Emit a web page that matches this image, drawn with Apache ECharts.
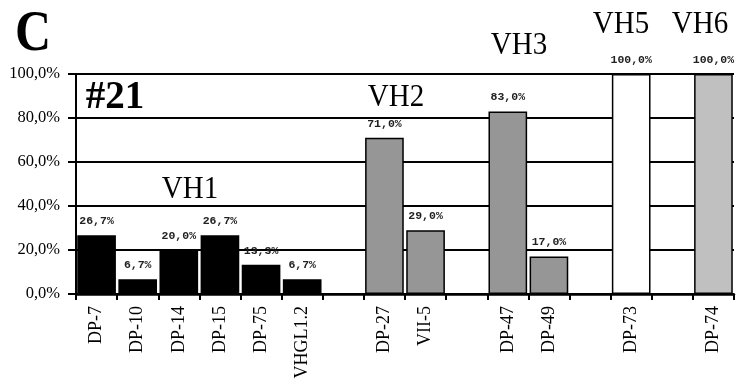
<!DOCTYPE html>
<html>
<head>
<meta charset="utf-8">
<script src="https://cdn.jsdelivr.net/npm/echarts@6/dist/echarts.min.js"></script>
<style>
  html, body { margin: 0; padding: 0; background: #fff; }
  #chart { width: 736px; height: 383px; }
</style>
</head>
<body>
<div id="chart"></div>
<script>
// Isolates along the x axis; empty strings are spacer slots between groups
const categories = ['DP-7', 'DP-10', 'DP-14', 'DP-15', 'DP-75', 'VHGL1.2', '',
  'DP-27', 'VII-5', '', 'DP-47', 'DP-49', '', 'DP-73', '', 'DP-74'];

// Percentages per group (null where the slot belongs to another group)
const vh1 = [26.7, 6.7, 20.0, 26.7, 13.3, 6.7, null, null, null, null, null, null, null, null, null, null];
const vh2 = [null, null, null, null, null, null, null, 71.0, 29.0, null, null, null, null, null, null, null];
const vh3 = [null, null, null, null, null, null, null, null, null, null, 83.0, 17.0, null, null, null, null];
const vh5 = [null, null, null, null, null, null, null, null, null, null, null, null, null, 100.0, null, null];
const vh6 = [null, null, null, null, null, null, null, null, null, null, null, null, null, null, null, 100.0];

const groupNames = ['VH1', 'VH2', 'VH3', 'VH5', 'VH6'];
const groupValues = [vh1, vh2, vh3, vh5, vh6];
const groupColors = ['#000000', '#969696', '#969696', '#ffffff', '#c0c0c0'];

const yTicks = [0, 20, 40, 60, 80, 100];

const pct = v => v.toFixed(1).replace('.', ',') + '%';

const chart = echarts.init(document.getElementById('chart'), null, { renderer: 'canvas' });

const serif = '"Liberation Serif", "Times New Roman", serif';

const series = groupNames.map((name, i) => ({
  name: name,
  type: 'bar',
  stack: 'all',
  data: groupValues[i],
  barCategoryGap: '6%',
  itemStyle: { color: groupColors[i], borderColor: '#000', borderWidth: 1.5 },
  label: {
    show: true,
    position: 'top',
    distance: 8,
    formatter: p => pct(p.value),
    fontFamily: '"Liberation Mono", "Courier New", monospace',
    fontWeight: 'bold',
    fontSize: 11.5,
    color: '#222'
  }
}));

// Free-standing annotation text: panel letter, sample id and group names
function label(text, x, y, size, bold, sy) {
  return {
    type: 'text',
    x: x, y: y,
    scaleY: sy || 1,
    z: 100,
    style: {
      text: text,
      x: 0, y: 0,
      align: 'center',
      verticalAlign: 'middle',
      font: (bold ? 'bold ' : '') + size + 'px ' + serif,
      fill: '#000'
    }
  };
}

chart.setOption({
  animation: false,
  backgroundColor: '#fff',
  grid: { left: 76, right: 2, top: 74, bottom: 89, containLabel: false },
  xAxis: {
    type: 'category',
    data: categories,
    boundaryGap: true,
    axisLine: { show: true, lineStyle: { color: '#000', width: 2.5 } },
    axisTick: { show: true, interval: 0, length: 6, lineStyle: { color: '#000', width: 2 } },
    axisLabel: {
      interval: 0,
      rotate: 90,
      margin: 12,
      fontFamily: serif,
      fontSize: 18,
      color: '#000'
    },
    splitLine: { show: false }
  },
  yAxis: {
    type: 'value',
    min: yTicks[0],
    max: yTicks[yTicks.length - 1],
    interval: 20,
    axisLine: { show: true, lineStyle: { color: '#000', width: 2 } },
    axisTick: { show: true, length: 8, lineStyle: { color: '#000', width: 2 } },
    axisLabel: {
      formatter: v => pct(v),
      margin: 16,
      fontFamily: serif,
      fontSize: 16.5,
      color: '#000'
    },
    splitLine: { show: true, lineStyle: { color: '#000', width: 2 } }
  },
  series: series,
  graphic: [
    label('C', 33, 36, 50, true, 1.12),
    label('#21', 115, 98, 39, true, 1),
    label('VH1', 190, 190, 29, false, 1.1),
    label('VH2', 396, 98, 29, false, 1.1),
    label('VH3', 519, 46, 29, false, 1.1),
    label('VH5', 621, 25, 29, false, 1.1),
    label('VH6', 700, 25, 29, false, 1.1)
  ]
});
</script>
</body>
</html>
